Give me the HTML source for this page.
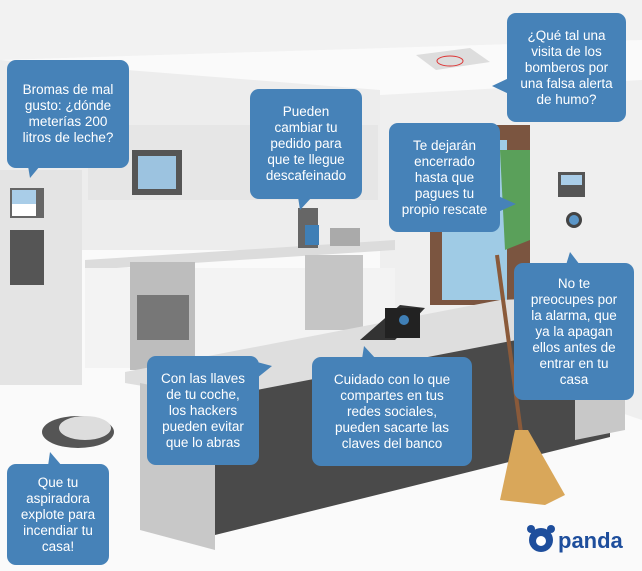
<!DOCTYPE html>
<html><head><meta charset="utf-8"><style>
body{margin:0;width:642px;height:571px;overflow:hidden;background:#fff;font-family:"Liberation Sans",sans-serif}
.b{position:absolute;background:#4682b8;color:#fff;border-radius:9px;font-size:13.5px;line-height:16px;text-align:center;display:flex;align-items:center;justify-content:center;box-sizing:border-box;padding:0;white-space:nowrap}
svg{position:absolute;left:0;top:0}
</style></head><body>
<svg width="642" height="571">
<rect width="642" height="571" fill="#fafafa"/>
<polygon points="0,0 642,0 642,40 0,60" fill="#f2f2f2"/>
<polygon points="0,60 380,90 380,250 0,250" fill="#ededed"/>
<polygon points="380,95 642,80 642,420 380,330" fill="#efefef"/>
<rect x="88" y="125" width="290" height="75" fill="#e6e6e6"/>
<rect x="132" y="150" width="50" height="45" fill="#555"/><rect x="138" y="156" width="38" height="33" fill="#9cc3e0"/>
<polygon points="85,260 395,240 395,250 85,270" fill="#dcdcdc"/>
<rect x="85" y="268" width="310" height="100" fill="#f3f3f3"/>
<rect x="130" y="262" width="65" height="108" fill="#bdbdbd"/><rect x="137" y="295" width="52" height="45" fill="#777"/>
<rect x="305" y="255" width="58" height="75" fill="#c5c5c5"/>
<rect x="0" y="170" width="82" height="215" fill="#e4e4e4"/>
<rect x="10" y="188" width="34" height="30" fill="#666"/><rect x="12" y="190" width="24" height="14" fill="#a9cde8"/><rect x="12" y="204" width="24" height="12" fill="#fff"/>
<rect x="10" y="230" width="34" height="55" fill="#555"/>
<rect x="430" y="125" width="100" height="180" fill="#7b5540"/><rect x="442" y="140" width="65" height="160" fill="#9fcbe5"/><polygon points="500,150 530,150 530,240 505,250" fill="#5aa05a"/>
<rect x="558" y="172" width="27" height="25" fill="#555"/><rect x="561" y="175" width="21" height="10" fill="#a9cde8"/>
<circle cx="574" cy="220" r="8" fill="#444"/><circle cx="574" cy="220" r="5" fill="#5b96c8"/>
<polygon points="416,55 470,48 490,62 436,70" fill="#ddd"/><ellipse cx="450" cy="61" rx="13" ry="5" fill="none" stroke="#d33"/>
<polygon points="125,372 500,300 625,295 625,320 215,398 125,383" fill="#dedede"/>
<polygon points="215,398 610,322 610,437 215,535" fill="#4a4a4a"/>
<polygon points="575,330 625,320 625,430 575,440" fill="#c8c8c8"/>
<polygon points="140,383 215,398 215,550 140,530" fill="#c8c8c8"/>
<polygon points="360,340 400,305 425,308 395,340" fill="#333"/><rect x="385" y="308" width="35" height="30" fill="#222"/><circle cx="404" cy="320" r="5" fill="#3f7fb6"/>
<line x1="497" y1="255" x2="522" y2="440" stroke="#8a5a3a" stroke-width="4"/>
<polygon points="515,430 528,430 565,495 545,505 500,500" fill="#d9a75a"/>
<ellipse cx="78" cy="432" rx="36" ry="16" fill="#555"/><ellipse cx="85" cy="428" rx="26" ry="12" fill="#ddd"/>
<path d="M298,208 h20 v40 h-20z" fill="#666"/><path d="M305,225 h14 v20 h-14z" fill="#3f7fb6"/><rect x="330" y="228" width="30" height="18" fill="#aaa"/>
<circle cx="541" cy="540" r="12" fill="#1e4e9c"/><circle cx="541" cy="541" r="5" fill="#fff"/><circle cx="531" cy="529" r="4" fill="#1e4e9c"/><circle cx="551" cy="529" r="4" fill="#1e4e9c"/>
<text x="558" y="548" font-family="Liberation Sans" font-weight="bold" font-size="22" fill="#1e4e9c">panda</text>
<g fill="#4682b8">
<polygon points="28,166 40,166 30,178"/>
<polygon points="298,197 312,197 300,210"/>
<polygon points="509,78 509,94 492,86"/>
<polygon points="498,196 498,212 516,204"/>
<polygon points="566,265 580,265 570,252"/>
<polygon points="257,362 257,378 272,366"/>
<polygon points="362,359 376,359 364,346"/>
<polygon points="48,466 62,466 50,452"/>
</g>
</svg>
<div class="b" style="left:7px;top:60px;width:122px;height:108px">Bromas de mal<br>gusto: ¿dónde<br>meterías 200<br>litros de leche?</div>
<div class="b" style="left:250px;top:89px;width:112px;height:110px">Pueden<br>cambiar tu<br>pedido para<br>que te llegue<br>descafeinado</div>
<div class="b" style="left:507px;top:13px;width:119px;height:109px">¿Qué tal una<br>visita de los<br>bomberos por<br>una falsa alerta<br>de humo?</div>
<div class="b" style="left:389px;top:123px;width:111px;height:109px">Te dejarán<br>encerrado<br>hasta que<br>pagues tu<br>propio rescate</div>
<div class="b" style="left:514px;top:263px;width:120px;height:137px">No te<br>preocupes por<br>la alarma, que<br>ya la apagan<br>ellos antes de<br>entrar en tu<br>casa</div>
<div class="b" style="left:147px;top:356px;width:112px;height:109px">Con las llaves<br>de tu coche,<br>los hackers<br>pueden evitar<br>que lo abras</div>
<div class="b" style="left:312px;top:357px;width:160px;height:109px">Cuidado con lo que<br>compartes en tus<br>redes sociales,<br>pueden sacarte las<br>claves del banco</div>
<div class="b" style="left:7px;top:464px;width:102px;height:101px">Que tu<br>aspiradora<br>explote para<br>incendiar tu<br>casa!</div>
</body></html>
